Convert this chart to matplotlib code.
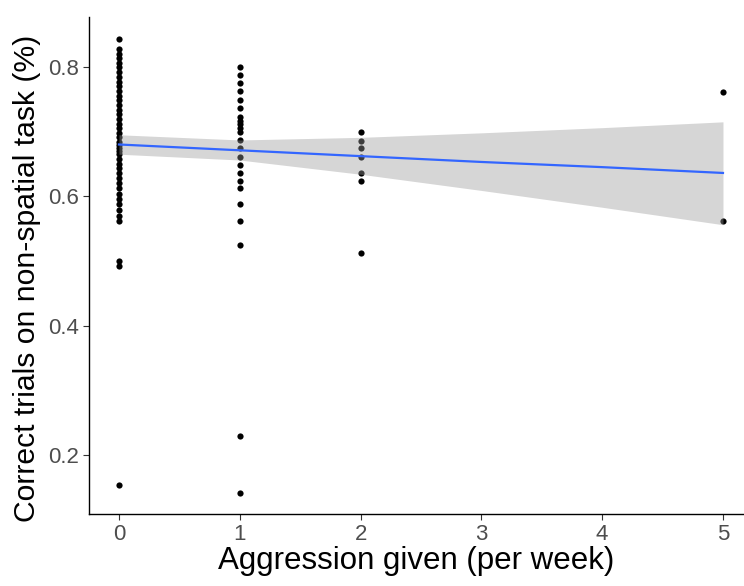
import numpy as np
import matplotlib
matplotlib.use("Agg")
import matplotlib.pyplot as plt

plt.rcParams["font.family"] = ["Liberation Sans", "DejaVu Sans"]

# correct-trial proportion per aggression level
y_agg0 = [0.843, 0.828, 0.820, 0.813, 0.806, 0.799, 0.792, 0.784, 0.777, 0.770,
          0.763, 0.755, 0.748, 0.741, 0.734, 0.727, 0.719, 0.712, 0.705, 0.698,
          0.691, 0.684, 0.679, 0.675, 0.670, 0.665, 0.658, 0.650, 0.643, 0.636,
          0.628, 0.621, 0.613, 0.604, 0.596, 0.588, 0.578, 0.570, 0.562, 0.500,
          0.493, 0.154]
y_agg1 = [0.800, 0.788, 0.775, 0.762, 0.749, 0.736, 0.723, 0.716, 0.712, 0.705,
          0.700, 0.687, 0.674, 0.661, 0.649, 0.636, 0.624, 0.613, 0.588, 0.562,
          0.525, 0.230, 0.142]
y_agg2 = [0.699, 0.686, 0.674, 0.661, 0.636, 0.623, 0.512]
y_agg5 = [0.761, 0.562]

# fitted line and confidence band
fit_x = [0, 1, 2, 3, 4, 5]
fit_y = [0.680, 0.671, 0.662, 0.653, 0.645, 0.636]
band_lo = [0.665, 0.656, 0.634, 0.609, 0.583, 0.556]
band_hi = [0.695, 0.687, 0.691, 0.698, 0.706, 0.715]

x = np.concatenate([np.full(len(y_agg0), 0.0), np.full(len(y_agg1), 1.0),
                    np.full(len(y_agg2), 2.0), np.full(len(y_agg5), 5.0)])
y = np.concatenate([y_agg0, y_agg1, y_agg2, y_agg5])

fig = plt.figure(figsize=(7.44, 5.86), dpi=100)
ax = fig.add_axes([89 / 744, 72 / 586, 655 / 744, 497 / 586])

ax.scatter(x, y, s=20, color="black", linewidths=0, zorder=2)
ax.fill_between(fit_x, band_lo, band_hi, color="#999999",
                alpha=0.4, linewidth=0, zorder=3)
ax.plot(fit_x, fit_y, color="#3366FF", lw=1.6, zorder=4)

ax.set_xlim(-0.248, 5.174)
ax.set_ylim(0.109, 0.877)
ax.set_xticks([0, 1, 2, 3, 4, 5])
ax.set_yticks([0.2, 0.4, 0.6, 0.8])
ax.set_yticklabels(["0.2", "0.4", "0.6", "0.8"])
for sp in ["top", "right"]:
    ax.spines[sp].set_visible(False)
for sp in ["left", "bottom"]:
    ax.spines[sp].set_linewidth(1.0)
ax.tick_params(colors="#333333", labelcolor="#4D4D4D", labelsize=16,
               length=4, width=0.8, pad=3)
ax.set_xlabel("Aggression given (per week)", fontsize=22.5, labelpad=1)
ax.set_ylabel("Correct trials on non-spatial task (%)", fontsize=21.7)
ax.yaxis.set_label_coords(-0.073, 0.475)

fig.savefig("out.png", dpi=100)
